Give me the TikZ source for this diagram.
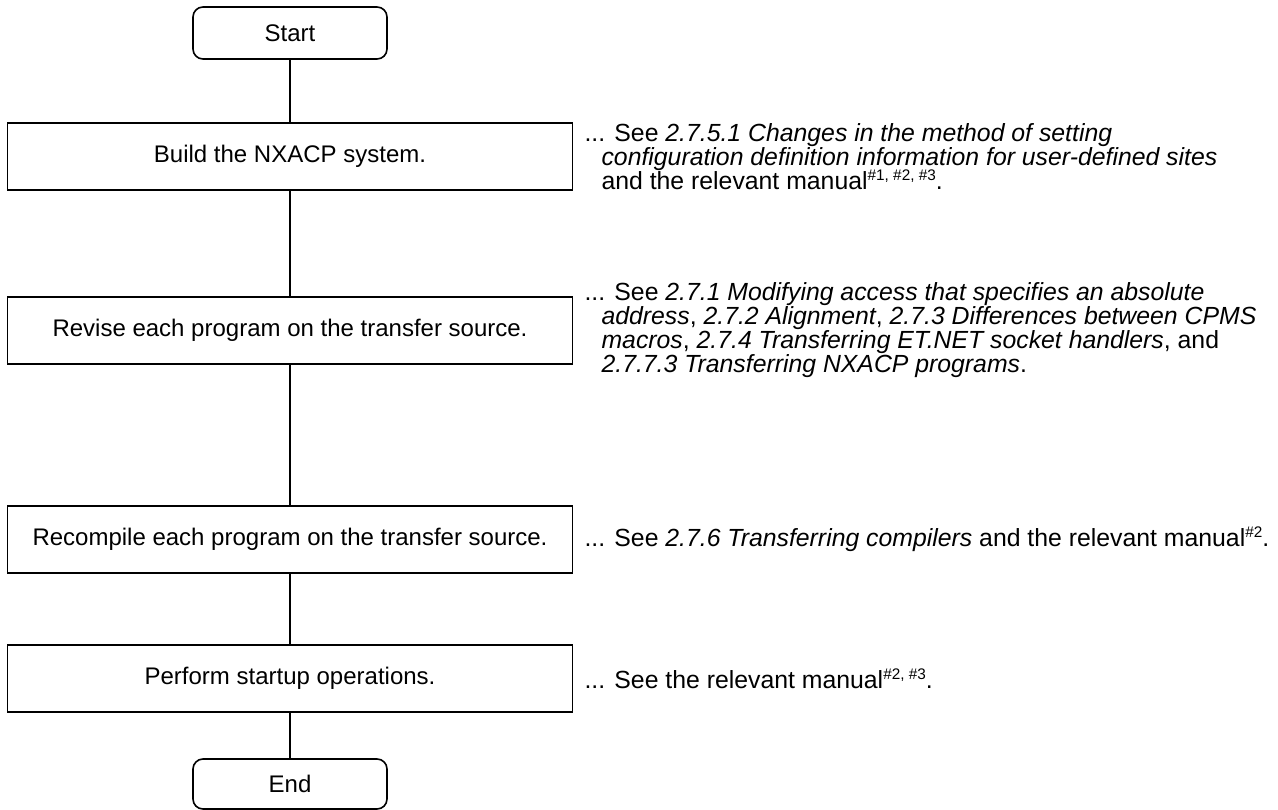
\documentclass[tikz,border=0pt]{standalone}
\usepackage{fontspec}
\setmainfont{Liberation Sans}
\usetikzlibrary{positioning}
\newcommand{\noteindent}{\hspace*{12.75pt}}
\newcommand{\notefont}{\fontsize{18.6}{18}\selectfont\lineskiplimit=-20pt\relax}
\newcommand{\manref}[1]{\raisebox{0.36em}{\fontsize{11.5}{11.5}\selectfont #1}}

\begin{document}
\begin{tikzpicture}[x=0.75pt,y=-0.75pt]
	\tikzset{every node/.style={font=\fontsize{18}{17.2}\selectfont}}
	\tikzset{terminal/.style={draw,line width=1.2pt,rounded corners=7.5pt,minimum width=145.5pt,minimum height=39pt}}
	\tikzset{stepbox/.style={draw,line width=1.2pt,minimum width=423.75pt,minimum height=50.25pt}}
	\tikzset{note/.style={align=left,inner sep=0pt,anchor=west,font=\notefont}}
	\tikzset{link/.style={line width=1.2pt}}
	\useasboundingbox (0,0) rectangle (1278,810);
	\node[terminal] (start) at (290,33) {Start};
	\node[stepbox,below=46.8pt of start] (build) {Build the NXACP system.};
	\node[stepbox,below=79.05pt of build] (revise) {Revise each program on the transfer source.};
	\node[stepbox,below=105.3pt of revise] (recompile) {Recompile each program on the transfer source.};
	\node[stepbox,below=52.8pt of recompile] (perform) {Perform startup operations.};
	\node[terminal,minimum height=37.5pt,below=34.05pt of perform] (end) {End};
	\draw[link] (start) -- (build);
	\draw[link] (build) -- (revise);
	\draw[link] (revise) -- (recompile);
	\draw[link] (recompile) -- (perform);
	\draw[link] (perform) -- (end);
	% references on the right
	\node[note] (buildnote) at ([xshift=8.25pt]build.east) {... See \textit{2.7.5.1 Changes in the method of setting}\\
		\noteindent\textit{configuration definition information for user-defined sites}\\
		\noteindent and the relevant manual\manref{\#1, \#2, \#3}.};
	\node[note] (revisenote) at ([xshift=8.25pt]revise.east) {... See \textit{2.7.1 Modifying access that specifies an absolute}\\
		\noteindent\textit{address}, \textit{2.7.2 Alignment}, \textit{2.7.3 Differences between CPMS}\\
		\noteindent\textit{macros}, \textit{2.7.4 Transferring ET.NET socket handlers}, and\\
		\noteindent\textit{2.7.7.3 Transferring NXACP programs}.};
	\node[note] (recompilenote) at ([xshift=8.25pt]recompile.east) {... See \textit{2.7.6 Transferring compilers} and the relevant manual\manref{\#2}.};
	\node[note] (performnote) at ([xshift=8.25pt]perform.east) {... See the relevant manual\manref{\#2, \#3}.};
\end{tikzpicture}
\end{document}
